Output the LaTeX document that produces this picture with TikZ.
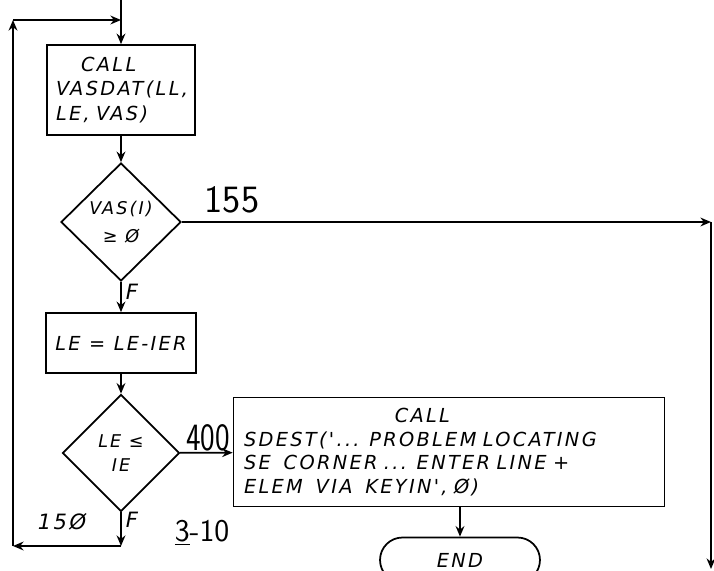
\documentclass[tikz,border=0pt]{standalone}
\usepackage{fontspec}
\newfontfamily\handfont[LetterSpace=12]{DejaVu Sans}
\usetikzlibrary{shapes.geometric,arrows.meta}

\begin{document}
\begin{tikzpicture}[x=0.02cm,y=-0.02cm,line width=1pt,
  >={Stealth[length=6pt,width=5pt]},
  stepbox/.style={draw,rectangle,inner ysep=2pt,
    font=\handfont\itshape\fontsize{11}{13.5}\selectfont},
  testbox/.style={draw,diamond,inner sep=0pt,align=center,
    font=\handfont\itshape\fontsize{10}{14}\selectfont},
  stopbox/.style={draw,rectangle,rounded corners=0.45cm,
    font=\handfont\itshape\fontsize{11}{13}\selectfont},
  numlbl/.style={font=\sffamily\fontsize{22}{22}\selectfont},
  handlbl/.style={font=\handfont\itshape\fontsize{12}{12}\selectfont}]
  \useasboundingbox (0,0) rectangle (714,571);
  % boxes and tests
  \node[stepbox,minimum width=2.96cm,minimum height=1.8cm,text width=2.6cm,
    inner xsep=0.18cm,align=left,font=\handfont\itshape\fontsize{11}{14}\selectfont] (vasdat) at (121,90)
    {\hspace*{1.3em}CALL\\VASDAT(LL,\\LE, VAS)};
  \node[testbox,minimum width=2.4cm,minimum height=2.36cm] (vastest) at (121,222)
    {VAS(I)\\[2pt]≥ Ø};
  \node[stepbox,minimum width=3cm,minimum height=1.2cm] (lestep) at (121,343)
    {LE = LE-IER};
  \node[testbox,minimum width=2.34cm,minimum height=2.34cm] (letest) at (121,453)
    {LE ≤\\IE};
  \node[stepbox,minimum width=8.62cm,minimum height=2.18cm,text width=8.2cm,
    inner xsep=0.21cm,align=left,font=\handfont\itshape\fontsize{11}{13.5}\selectfont] (sdest) at (449,452)
    {\hspace*{7.8em}CALL\\SDEST('... PROBLEM LOCATING\\SE\ \ CORNER ... ENTER LINE +\\ELEM\ \ VIA\ \ KEYIN', Ø)};
  \node[stopbox,minimum width=3.2cm,minimum height=0.9cm] (stop) at (460,560) {END};
  % loop corners
  \coordinate (entry) at (121,0);
  \coordinate (loopin) at (121,20);
  \coordinate (ltop) at (13,20);
  \coordinate (lbot) at (13,546);
  \coordinate (dbot) at (121,546);
  \coordinate (rtop) at (711,222);
  \coordinate (rbot) at (711,569);
  % connectors
  \draw[->] (entry) -- (vasdat.north);
  \draw[->] (vasdat) -- (vastest);
  \draw[->] (vastest) -- (lestep);
  \draw[->] (lestep) -- (letest);
  \draw[->] (letest) -- (sdest);
  \draw[->] (sdest.south -| stop.north) -- (stop.north);
  \draw[->] (vastest.east) -- (rtop);
  \draw[->] (rtop) -- (rbot);
  \draw[->] (letest.south) -- (dbot);
  \draw[->] (dbot) -- (lbot);
  \draw[->] (lbot) -- (ltop);
  \draw[->] (ltop) -- (loopin);
  % labels
  \node[numlbl] (n155) at (232,200) {155};
  \node[numlbl,xscale=0.8] (n400) at (208,438) {400};
  \node[handlbl] (f1) at (132,292) {F};
  \node[handlbl] (f2) at (132,520) {F};
  \node[handlbl] (n150) at (62,522) {15Ø};
  \node[font=\sffamily\fontsize{18}{18}\selectfont] (page) at (202,533) {\underline{3}-10};
\end{tikzpicture}
\end{document}
